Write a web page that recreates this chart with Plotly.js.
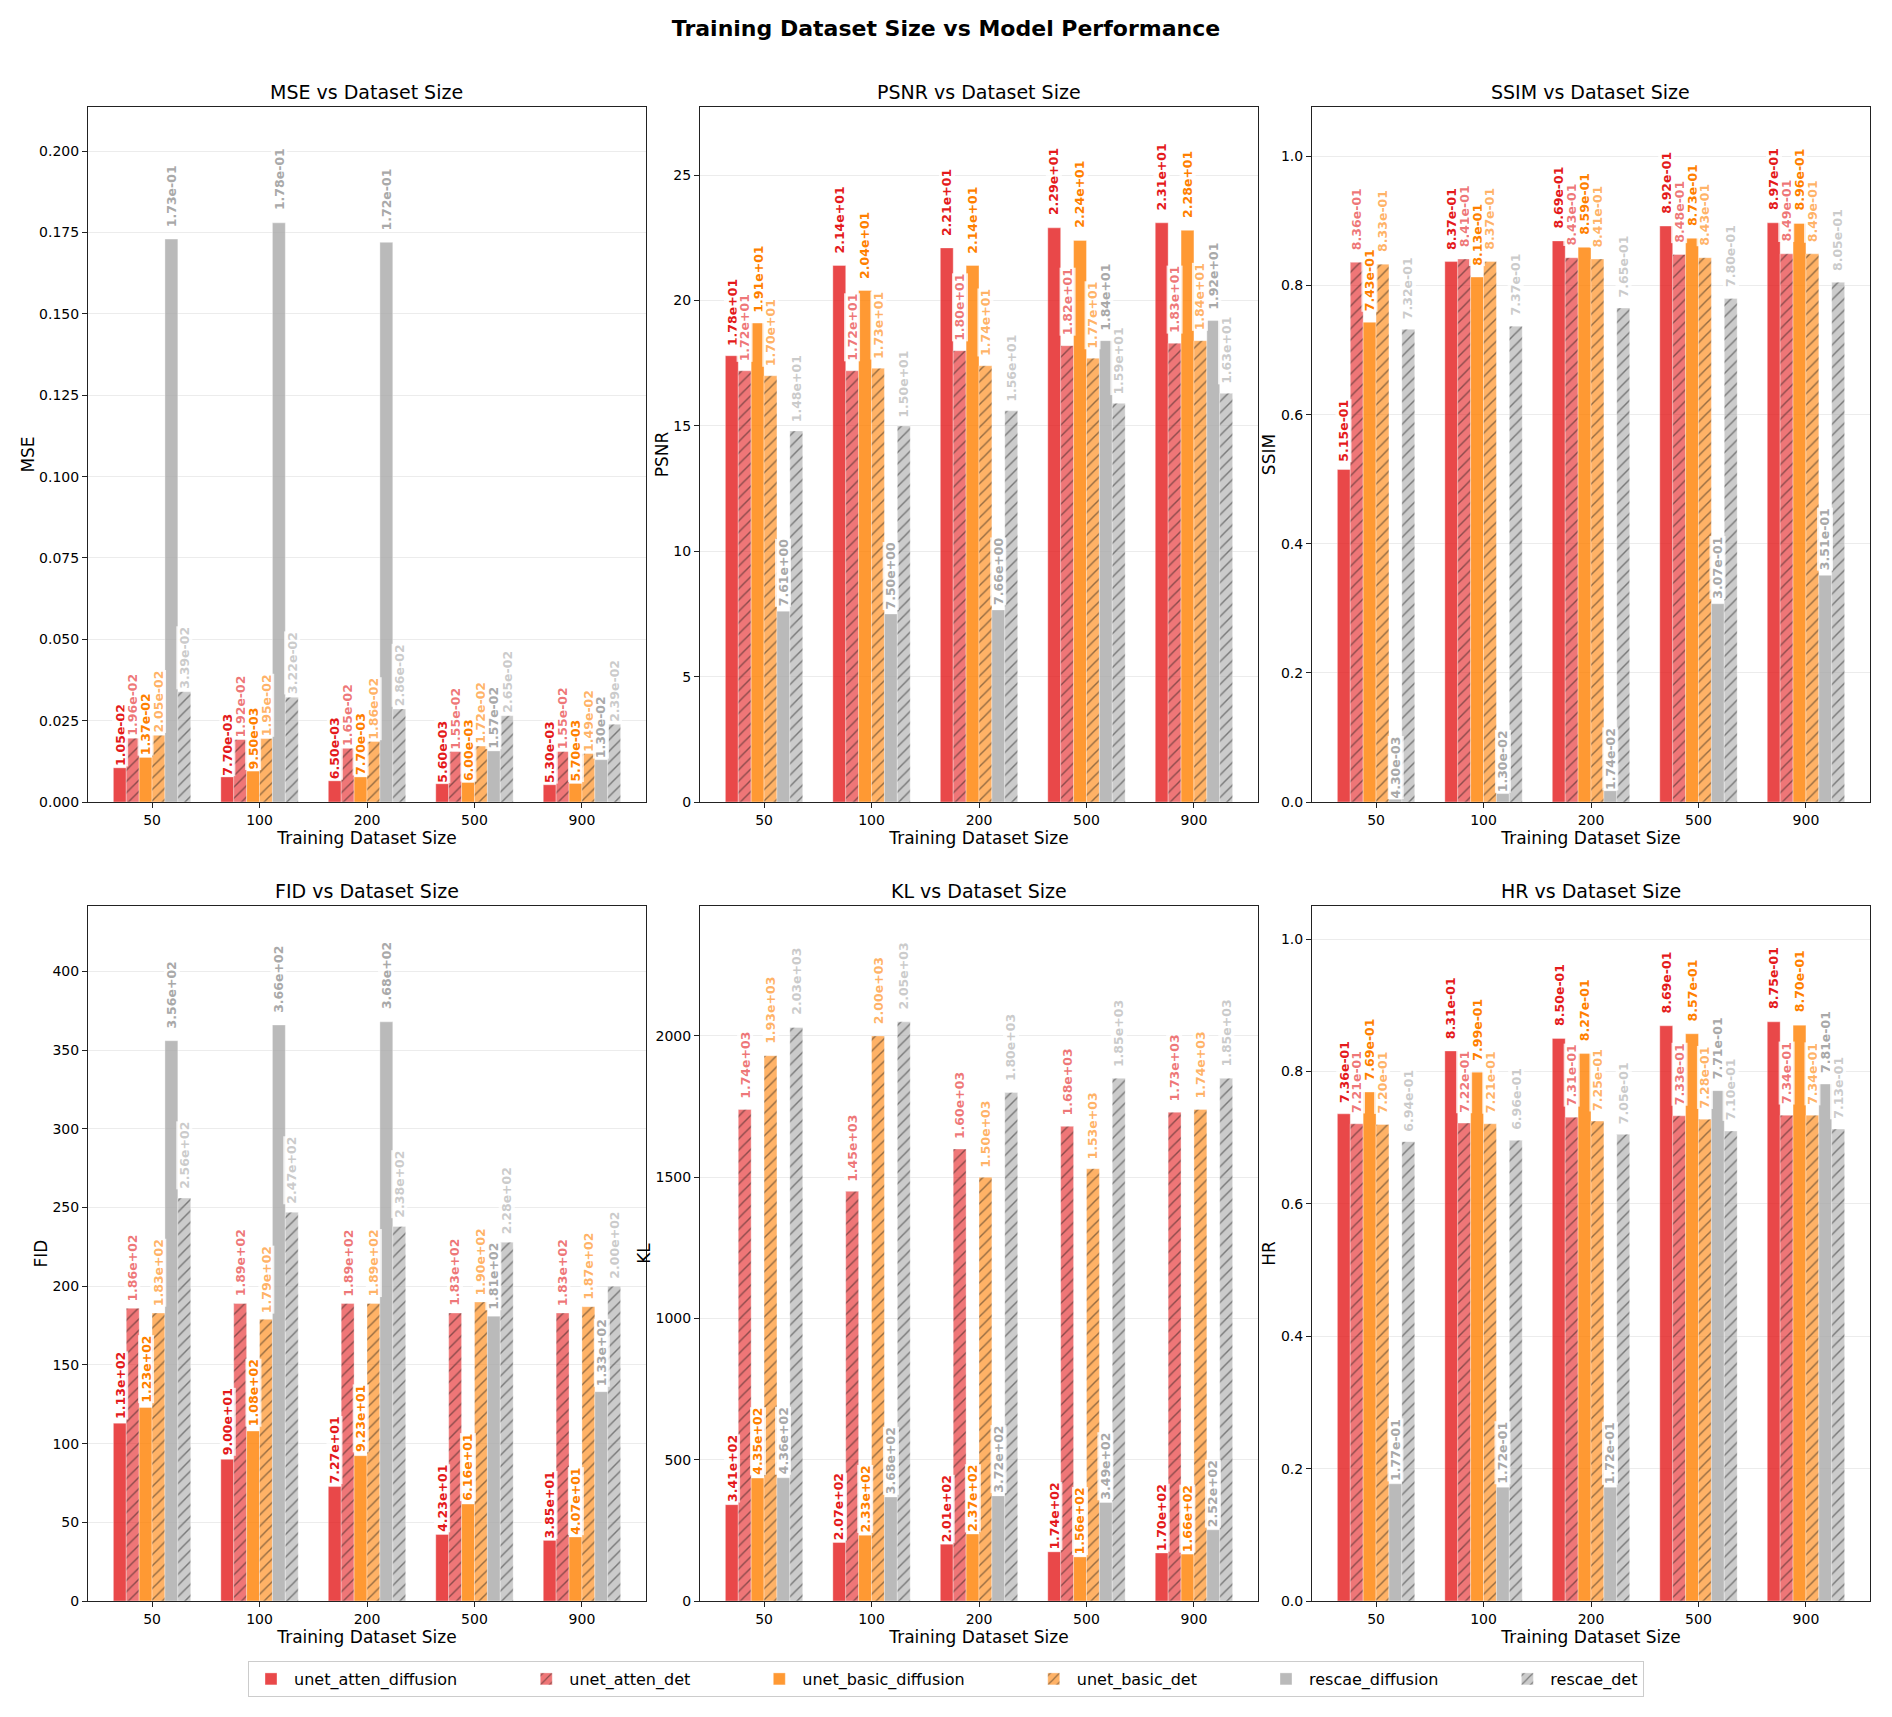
<!DOCTYPE html>
<html>
<head>
<meta charset="utf-8">
<script src="https://cdn.plot.ly/plotly-3.0.1.min.js"></script>
<style>
  body { margin: 0; background: #fff; }
  #plot { width: 1892px; height: 1717px; }
</style>
</head>
<body>
<div id="plot"></div>
<script>
// dataset sizes on the x axis
const categories = ['50', '100', '200', '500', '900'];

const seriesNames = ['unet_atten_diffusion', 'unet_atten_det', 'unet_basic_diffusion',
                     'unet_basic_det', 'rescae_diffusion', 'rescae_det'];

// one row per series (same order as seriesNames), one column per dataset size
const mseValues = [
  [1.05e-2, 7.70e-3, 6.50e-3, 5.60e-3, 5.30e-3],
  [1.96e-2, 1.92e-2, 1.65e-2, 1.55e-2, 1.55e-2],
  [1.37e-2, 9.50e-3, 7.70e-3, 6.00e-3, 5.70e-3],
  [2.05e-2, 1.95e-2, 1.86e-2, 1.72e-2, 1.49e-2],
  [1.73e-1, 1.78e-1, 1.72e-1, 1.57e-2, 1.30e-2],
  [3.39e-2, 3.22e-2, 2.86e-2, 2.65e-2, 2.39e-2]
];

const psnrValues = [
  [17.8, 21.4, 22.1, 22.9, 23.1],
  [17.2, 17.2, 18.0, 18.2, 18.3],
  [19.1, 20.4, 21.4, 22.4, 22.8],
  [17.0, 17.3, 17.4, 17.7, 18.4],
  [7.61, 7.50, 7.66, 18.4, 19.2],
  [14.8, 15.0, 15.6, 15.9, 16.3]
];

const ssimValues = [
  [0.515, 0.837, 0.869, 0.892, 0.897],
  [0.836, 0.841, 0.843, 0.848, 0.849],
  [0.743, 0.813, 0.859, 0.873, 0.896],
  [0.833, 0.837, 0.841, 0.843, 0.849],
  [0.0043, 0.0130, 0.0174, 0.307, 0.351],
  [0.732, 0.737, 0.765, 0.780, 0.805]
];

const fidValues = [
  [113, 90.0, 72.7, 42.3, 38.5],
  [186, 189, 189, 183, 183],
  [123, 108, 92.3, 61.6, 40.7],
  [183, 179, 189, 190, 187],
  [356, 366, 368, 181, 133],
  [256, 247, 238, 228, 200]
];

const klValues = [
  [341, 207, 201, 174, 170],
  [1740, 1450, 1600, 1680, 1730],
  [435, 233, 237, 156, 166],
  [1930, 2000, 1500, 1530, 1740],
  [436, 368, 372, 349, 252],
  [2030, 2050, 1800, 1850, 1850]
];

const hrValues = [
  [0.736, 0.831, 0.850, 0.869, 0.875],
  [0.721, 0.722, 0.731, 0.733, 0.734],
  [0.769, 0.799, 0.827, 0.857, 0.870],
  [0.720, 0.721, 0.725, 0.728, 0.734],
  [0.177, 0.172, 0.172, 0.771, 0.781],
  [0.694, 0.696, 0.705, 0.710, 0.713]
];

const metrics = [
  { name: 'MSE', values: mseValues, fmt: '.3f', dtick: 0.025 },
  { name: 'PSNR', values: psnrValues, fmt: 'd', dtick: 5 },
  { name: 'SSIM', values: ssimValues, fmt: '.1f', dtick: 0.2 },
  { name: 'FID', values: fidValues, fmt: 'd', dtick: 50 },
  { name: 'KL', values: klValues, fmt: 'd', dtick: 500 },
  { name: 'HR', values: hrValues, fmt: '.1f', dtick: 0.2 }
];

// bar fill colours (diffusion alpha .8, det alpha .6) and label colours
const barColors = ['rgba(228,26,28,0.8)', 'rgba(228,26,28,0.6)', 'rgba(255,127,0,0.8)',
                   'rgba(255,127,0,0.6)', 'rgba(169,169,169,0.8)', 'rgba(169,169,169,0.6)'];
const labelColors = ['rgb(228,26,28)', 'rgba(228,26,28,0.6)', 'rgb(255,127,0)',
                     'rgba(255,127,0,0.6)', 'rgb(169,169,169)', 'rgba(169,169,169,0.6)'];
const hatched = [false, true, false, true, false, true];

const W = 1892, H = 1717;
const colDomains = [[88, 646], [700, 1258], [1312, 1870]].map(d => [d[0] / W, d[1] / W]);
const rowDomains = [[H - 802, H - 107], [H - 1601, H - 906]].map(d => [d[0] / H, d[1] / H]);

const barWidth = 0.12;
const font = 'DejaVu Sans, Liberation Sans, sans-serif';
// extra room after each legend entry, like matplotlib's column spacing
const legendPad = '\u00a0'.repeat(12);

function sci(v) {
  let parts = v.toExponential(2).split('e');
  let sign = parts[1][0];
  let digits = parts[1].slice(1).padStart(2, '0');
  return parts[0] + 'e' + sign + digits;
}

let traces = [];
let annotations = [];
let layout = {
  width: W,
  height: H,
  margin: { l: 0, r: 0, t: 0, b: 0 },
  paper_bgcolor: '#fff',
  plot_bgcolor: '#fff',
  font: { family: font, color: '#000' },
  barmode: 'group',
  bargap: 1 - barWidth * 6,
  bargroupgap: 0,
  title: {
    text: 'Training Dataset Size vs Model Performance',
    x: 0.5, xanchor: 'center',
    y: 1 - 28 / H, yanchor: 'middle',
    font: { size: 22, weight: 'bold', family: font, color: '#000' }
  },
  showlegend: true,
  legend: {
    orientation: 'h',
    x: 0.5, xanchor: 'center',
    y: 1 - 1679 / H, yanchor: 'middle',
    font: { size: 16, family: font },
    bordercolor: '#cccccc',
    borderwidth: 1,
    itemwidth: 36,
    tracegroupgap: 0
  }
};

for (let m = 0; m < metrics.length; m++) {
  const metric = metrics[m];
  const idx = m === 0 ? '' : String(m + 1);
  const xa = 'x' + idx, ya = 'y' + idx;
  const col = m % 3, row = Math.floor(m / 3);

  let maxVal = 0;
  metric.values.forEach(r => r.forEach(v => { if (v > maxVal) maxVal = v; }));

  for (let s = 0; s < seriesNames.length; s++) {
    let marker = {
      color: barColors[s],
      line: { color: 'rgba(255,255,255,0.6)', width: 0.6 }
    };
    if (hatched[s]) {
      marker.pattern = {
        shape: '/', fillmode: 'overlay',
        fgcolor: 'rgba(20,20,20,0.9)', size: 8, solidity: 0.18
      };
    }
    traces.push({
      type: 'bar',
      x: categories,
      y: metric.values[s],
      name: seriesNames[s] + (s < seriesNames.length - 1 ? legendPad : ''),
      legendgroup: seriesNames[s],
      showlegend: m === 0,
      marker: marker,
      xaxis: xa,
      yaxis: ya,
      hoverinfo: 'skip'
    });

    // value labels above each bar
    for (let c = 0; c < categories.length; c++) {
      const v = metric.values[s][c];
      annotations.push({
        xref: xa, yref: ya,
        x: c + (s - 2.5) * barWidth,
        y: v * 1.02,
        text: sci(v),
        textangle: -90,
        showarrow: false,
        xanchor: 'center',
        yanchor: 'bottom',
        bgcolor: 'rgba(255,255,255,0.8)',
        borderpad: 0,
        font: { size: 12.5, weight: 'bold', family: font, color: labelColors[s] }
      });
    }
  }

  // subplot title
  annotations.push({
    xref: 'paper', yref: 'paper',
    x: (colDomains[col][0] + colDomains[col][1]) / 2,
    y: rowDomains[row][1],
    xanchor: 'center', yanchor: 'bottom',
    yshift: 2,
    showarrow: false,
    text: metric.name + ' vs Dataset Size',
    font: { size: 19, family: font, color: '#000' }
  });

  layout['xaxis' + idx] = {
    domain: colDomains[col],
    anchor: ya,
    type: 'category',
    range: [-0.596, 4.596],
    showline: true, mirror: true, linecolor: '#222', linewidth: 1,
    ticks: 'outside', ticklen: 5, tickcolor: '#222',
    showgrid: false, zeroline: false,
    tickfont: { size: 14, family: font, color: '#000' },
    title: { text: 'Training Dataset Size', standoff: 2,
             font: { size: 17, family: font, color: '#000' } }
  };
  layout['yaxis' + idx] = {
    domain: rowDomains[row],
    anchor: xa,
    range: [0, maxVal * 1.2],
    dtick: metric.dtick,
    tick0: 0,
    tickformat: metric.fmt,
    showline: true, mirror: true, linecolor: '#222', linewidth: 1,
    ticks: 'outside', ticklen: 5, tickcolor: '#222',
    showgrid: true, gridcolor: '#ececec', gridwidth: 1,
    zeroline: false,
    tickfont: { size: 14, family: font, color: '#000' },
    title: { text: metric.name, standoff: 0,
             font: { size: 17, family: font, color: '#000' } }
  };
}

layout.annotations = annotations;

Plotly.newPlot('plot', traces, layout, { displayModeBar: false, staticPlot: true });
</script>
</body>
</html>
